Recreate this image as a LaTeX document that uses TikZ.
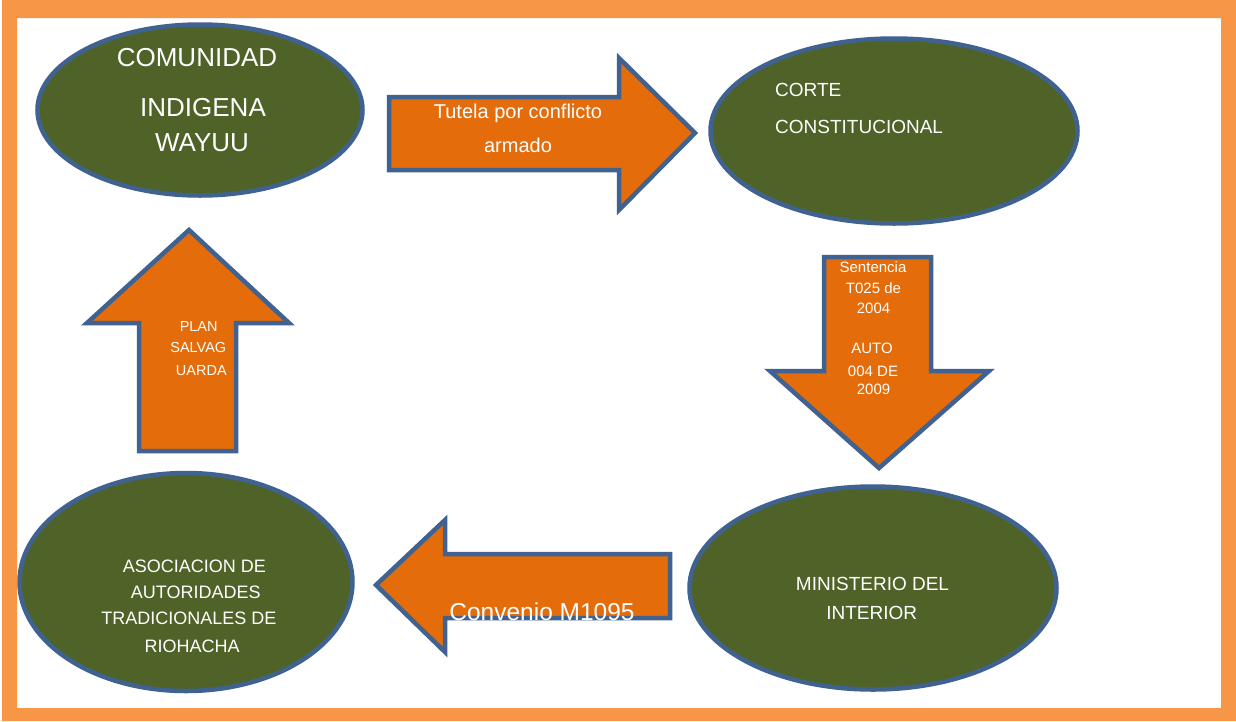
\documentclass[tikz,border=0pt]{standalone}
\usepackage{fontspec}
\setmainfont{Liberation Sans}
\usetikzlibrary{shapes.geometric}
\definecolor{frameorange}{HTML}{F79646}
\definecolor{arroworange}{HTML}{E46C0A}
\definecolor{olive}{HTML}{4F6228}
\definecolor{outlineblue}{HTML}{3F6290}
\tikzset{
  oval/.style={ellipse, draw=outlineblue, fill=olive, line width=4.5pt, inner sep=0pt},
  blockarrow/.style={draw=outlineblue, fill=arroworange, line width=4.5pt, line join=miter},
  lbl/.style={text=white, anchor=base, inner sep=0pt, align=center},
}
\begin{document}
\begin{tikzpicture}[x=1pt, y=-1pt]
\useasboundingbox (0,0) rectangle (1236,721);
\fill[white] (0,0) rectangle (1236,721);
% frame
\fill[frameorange, even odd rule] (2,0) rectangle (1236,721) (17,18) rectangle (1221,708);

% ellipses
\node[oval, minimum width=325pt, minimum height=171pt] (comunidad) at (200,110) {};
\node[oval, minimum width=367pt, minimum height=185pt] (corte) at (894,131) {};
\node[oval, minimum width=367pt, minimum height=203pt] (ministerio) at (873,588) {};
\node[oval, minimum width=333pt, minimum height=218pt] (asociacion) at (186,582) {};

% block arrows
\draw[blockarrow] (389,97) -- (619,97) -- (619,58) -- (695,133) -- (619,210) -- (619,170) -- (389,170) -- cycle;
\draw[blockarrow] (824,257) -- (931,257) -- (931,371) -- (989,371) -- (879,468) -- (770,371) -- (824,371) -- cycle;
\draw[blockarrow] (670,554) -- (445,554) -- (445,520) -- (376,585) -- (445,652) -- (445,618) -- (670,618) -- cycle;
\draw[blockarrow] (139,451) -- (139,323) -- (87,323) -- (189,230) -- (289,323) -- (236,323) -- (236,451) -- cycle;

% texts
\node[lbl, font=\fontsize{26}{30}\selectfont] (t1) at (197,66.5) {COMUNIDAD};
\node[lbl, font=\fontsize{26}{30}\selectfont] (t2) at (203,116.5) {INDIGENA};
\node[lbl, font=\fontsize{26}{30}\selectfont] (t3) at (202,151.5) {WAYUU};

\node[lbl, anchor=base west, font=\fontsize{19}{22}\selectfont] (c1) at (775,96.7) {CORTE};
\node[lbl, anchor=base west, font=\fontsize{19}{22}\selectfont] (c2) at (775,133.3) {CONSTITUCIONAL};

\node[lbl, font=\fontsize{20}{24}\selectfont] (a1) at (518,118.3) {Tutela por conflicto};
\node[lbl, font=\fontsize{20}{24}\selectfont] (a2) at (518,152.7) {armado};

\node[lbl, font=\fontsize{15}{18}\selectfont] (s1) at (873,272.7) {Sentencia};
\node[lbl, font=\fontsize{15}{18}\selectfont] (s2) at (873.5,293.3) {T025 de};
\node[lbl, font=\fontsize{15}{18}\selectfont] (s3) at (873.5,313.3) {2004};
\node[lbl, font=\fontsize{15}{18}\selectfont] (s4) at (872,353.3) {AUTO};
\node[lbl, font=\fontsize{15}{18}\selectfont] (s5) at (873,376) {004 DE};
\node[lbl, font=\fontsize{15}{18}\selectfont] (s6) at (873.5,394.3) {2009};

\node[lbl, font=\fontsize{19}{22}\selectfont] (m1) at (872.5,590.7) {MINISTERIO DEL};
\node[lbl, font=\fontsize{19}{22}\selectfont] (m2) at (871.7,619.3) {INTERIOR};

\node[lbl, font=\fontsize{24.5}{28}\selectfont] (v1) at (542,620) {Convenio M1095};

\node[lbl, font=\fontsize{18}{21}\selectfont] (r1) at (194.3,572.3) {ASOCIACION DE};
\node[lbl, font=\fontsize{18}{21}\selectfont] (r2) at (195.8,598.3) {AUTORIDADES};
\node[lbl, font=\fontsize{18}{21}\selectfont] (r3) at (188.8,624) {TRADICIONALES DE};
\node[lbl, font=\fontsize{18}{21}\selectfont] (r4) at (192.2,652.3) {RIOHACHA};

\node[lbl, font=\fontsize{14.5}{17}\selectfont] (p1) at (198.7,331.7) {PLAN};
\node[lbl, font=\fontsize{14.5}{17}\selectfont] (p2) at (198.3,352.7) {SALVAG};
\node[lbl, font=\fontsize{14.5}{17}\selectfont] (p3) at (201.3,375) {UARDA};
\end{tikzpicture}
\end{document}
